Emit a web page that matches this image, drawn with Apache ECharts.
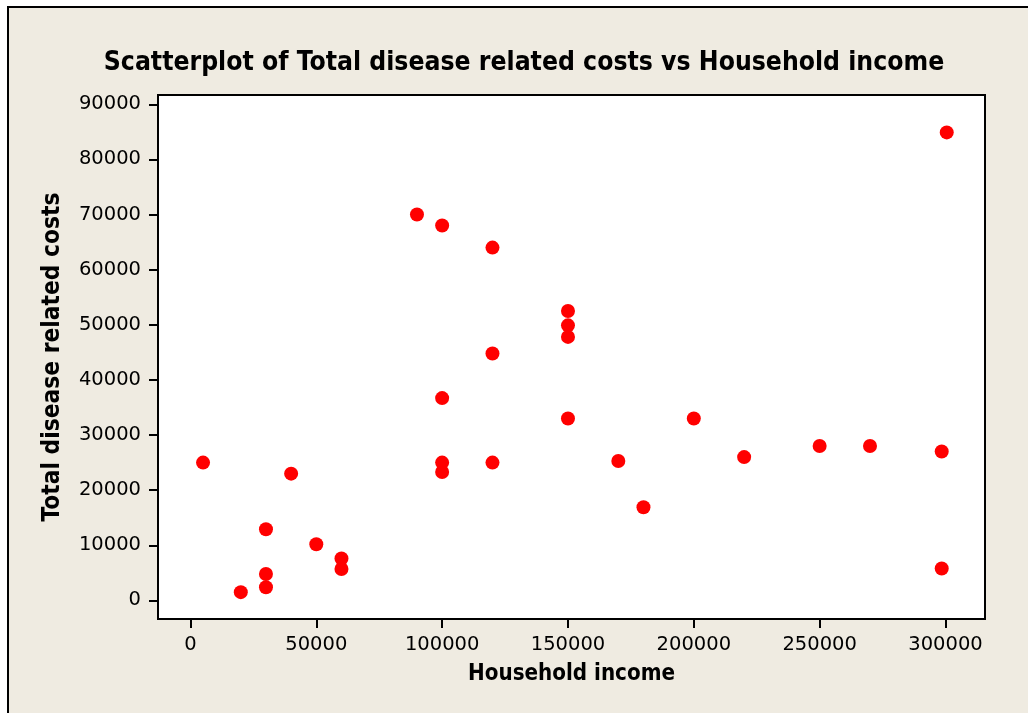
<!DOCTYPE html>
<html>
<head>
<meta charset="utf-8">
<script src="https://cdn.jsdelivr.net/npm/echarts@6/dist/echarts.min.js"></script>
<style>
html,body{margin:0;padding:0;background:#ffffff;}
#chart{width:1028px;height:713px;}
</style>
</head>
<body>
<div id="chart"></div>
<script>
// Household income (x) and Total disease related costs (y)
const householdIncome = [
  5000, 20000, 30000, 30000, 30000, 40000, 50000, 60000, 60000,
  90000, 100000, 100000, 100000, 100000, 120000, 120000, 120000,
  150000, 150000, 150000, 150000, 170000, 180000, 200000, 220000,
  250000, 270000, 298500, 298500, 300500
];
const diseaseCosts = [
  25000, 1500, 2400, 4800, 12900, 23000, 10200, 7600, 5700,
  70000, 68000, 36700, 25000, 23300, 64000, 44800, 25000,
  52500, 49900, 47800, 33000, 25300, 16900, 33000, 26000,
  28000, 28000, 27000, 5800, 84900
];
const xTicks = [0, 50000, 100000, 150000, 200000, 250000, 300000];
const yTicks = [0, 10000, 20000, 30000, 40000, 50000, 60000, 70000, 80000, 90000];

const points = householdIncome.map((x, i) => [x, diseaseCosts[i]]);
const FONT_B = '"DejaVu Sans Condensed", "DejaVu Sans", sans-serif';
const FONT = '"DejaVu Sans", sans-serif';

const chart = echarts.init(document.getElementById('chart'), null, {renderer: 'canvas'});
chart.setOption({
  backgroundColor: '#ffffff',
  animation: false,
  graphic: [{
    type: 'rect',
    z: -100,
    silent: true,
    shape: {x: 8, y: 7, width: 1040, height: 730},
    style: {fill: '#EFEBE1', stroke: '#000000', lineWidth: 2}
  }],
  title: {
    text: 'Scatterplot of Total disease related costs vs Household income',
    left: 519,
    textAlign: 'center',
    top: 45,
    textStyle: {fontFamily: FONT_B, fontWeight: 'bold', fontSize: 26.3, color: '#000000'}
  },
  grid: {
    left: 158, top: 95, width: 827, height: 524,
    show: true, backgroundColor: '#ffffff', borderColor: '#000000', borderWidth: 2
  },
  xAxis: {
    type: 'value',
    min: -12900, max: 315700,
    name: 'Household income',
    nameLocation: 'middle',
    nameGap: 44,
    nameTextStyle: {fontFamily: FONT_B, fontWeight: 'bold', fontSize: 22.2, color: '#000000'},
    splitLine: {show: false},
    axisLine: {show: true, onZero: false, lineStyle: {color: '#000000', width: 2}},
    axisTick: {show: true, inside: false, length: 9, customValues: xTicks, lineStyle: {color: '#000000', width: 2}},
    axisLabel: {show: true, margin: 16, customValues: xTicks, formatter: v => String(v),
      fontFamily: FONT, fontSize: 19.5, color: '#000000'}
  },
  yAxis: {
    type: 'value',
    min: -3370, max: 91680,
    name: 'Total disease related costs',
    nameLocation: 'middle',
    nameGap: 93,
    nameTextStyle: {fontFamily: FONT_B, fontWeight: 'bold', fontSize: 24.3, color: '#000000'},
    splitLine: {show: false},
    axisLine: {show: true, onZero: false, lineStyle: {color: '#000000', width: 2}},
    axisTick: {show: true, inside: false, length: 9, customValues: yTicks, lineStyle: {color: '#000000', width: 2}},
    axisLabel: {show: true, margin: 17, customValues: yTicks, formatter: v => String(v),
      fontFamily: FONT, fontSize: 19.5, color: '#000000'}
  },
  series: [{
    type: 'scatter',
    data: points,
    symbol: 'circle',
    symbolSize: 14,
    itemStyle: {color: '#FF0000', opacity: 1},
    emphasis: {disabled: true}
  }]
});
</script>
</body>
</html>
